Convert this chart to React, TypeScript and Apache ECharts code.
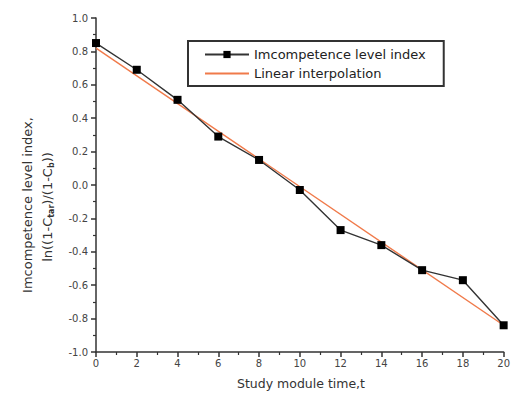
import React, { useEffect, useRef } from "react";
import * as echarts from "echarts";

const studyTime = [0, 2, 4, 6, 8, 10, 12, 14, 16, 18, 20];
const incompetenceIndex = [0.85, 0.69, 0.51, 0.29, 0.15, -0.03, -0.27, -0.36, -0.51, -0.57, -0.84];
const fitX = [0, 20];
const fitY = [0.82, -0.84];
const seriesNames = ["Imcompetence level index", "Linear interpolation"];

export default function App() {
  const ref = useRef<HTMLDivElement>(null);
  useEffect(() => {
    if (!ref.current) return;
    const chart = echarts.init(ref.current, null, { renderer: "svg" });
    const font = "DejaVu Sans";
    chart.setOption({
      animation: false,
      backgroundColor: "#ffffff",
      textStyle: { fontFamily: font },
      grid: { left: 96, top: 18, right: 3, bottom: 51, containLabel: false },
      legend: {
        data: [
          { name: seriesNames[0] },
          { name: seriesNames[1], itemStyle: { opacity: 0 } },
        ],
        orient: "vertical",
        left: 188,
        top: 41,
        borderColor: "#333",
        borderWidth: 2,
        borderRadius: 0,
        padding: [7, 18, 6, 16],
        itemGap: 6,
        itemWidth: 44,
        itemHeight: 9,
        textStyle: { fontFamily: font, fontSize: 13, color: "#222" },
      },
      xAxis: {
        type: "value",
        min: 0,
        max: 20,
        interval: 2,
        axisLine: { onZero: false, lineStyle: { color: "#333", width: 1.5 } },
        axisTick: { inside: false, length: 5, lineStyle: { color: "#333", width: 1.5 } },
        minorTick: { show: true, splitNumber: 2, length: 3, lineStyle: { color: "#333", width: 1.2 } },
        splitLine: { show: false },
        axisLabel: { fontSize: 10, color: "#444", margin: 6, fontFamily: font },
      },
      yAxis: {
        type: "value",
        min: -1,
        max: 1,
        interval: 0.2,
        axisLine: { show: true, onZero: false, lineStyle: { color: "#333", width: 1.5 } },
        axisTick: { show: true, inside: false, length: 5, lineStyle: { color: "#333", width: 1.5 } },
        minorTick: { show: true, splitNumber: 2, length: 3, lineStyle: { color: "#333", width: 1.2 } },
        splitLine: { show: false },
        axisLabel: {
          fontSize: 10,
          color: "#444",
          margin: 8,
          fontFamily: font,
          formatter: (v: number) => v.toFixed(1),
        },
      },
      graphic: [
        {
          type: "text",
          x: 301,
          y: 383,
          style: {
            text: "Study module time,t",
            font: `12.5px ${font}`,
            fill: "#333",
            align: "center",
            verticalAlign: "middle",
          },
        },
        {
          type: "text",
          x: 27,
          y: 205,
          rotation: Math.PI / 2,
          style: {
            text: "Imcompetence level index,",
            font: `13px ${font}`,
            fill: "#333",
            align: "center",
            verticalAlign: "middle",
          },
        },
        {
          type: "text",
          x: 47,
          y: 207,
          rotation: Math.PI / 2,
          style: {
            text: "{n|ln((1-C}{s|tar}{n|)/(1-C}{s|b}{n|))}",
            align: "center",
            verticalAlign: "middle",
            rich: {
              n: { font: `13px ${font}`, fill: "#333", height: 16 },
              s: { font: `bold 8px ${font}`, fill: "#333", height: 16, padding: [9, 0, 0, 0] },
            },
          },
        },
      ],
      series: [
        {
          name: seriesNames[1],
          type: "line",
          data: fitX.map((x, i) => [x, fitY[i]]),
          symbol: "none",
          lineStyle: { color: "#f07a4a", width: 1.4 },
          itemStyle: { color: "#f07a4a" },
          z: 2,
        },
        {
          name: seriesNames[0],
          type: "line",
          data: studyTime.map((x, i) => [x, incompetenceIndex[i]]),
          symbol: "rect",
          symbolSize: 8,
          lineStyle: { color: "#333", width: 1.4 },
          itemStyle: { color: "#000" },
          z: 3,
        },
      ],
    });
    return () => chart.dispose();
  }, []);
  return <div ref={ref} style={{ width: 513, height: 403, position: "absolute", left: 0, top: 0 }} />;
}
